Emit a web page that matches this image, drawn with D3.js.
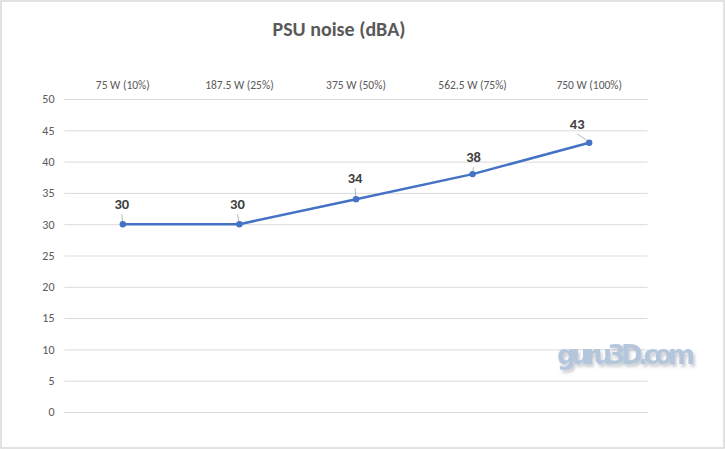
<!DOCTYPE html>
<html><head><meta charset="utf-8">
<script src="https://cdn.jsdelivr.net/npm/d3@7"></script>
<style>body{margin:0;background:#fff}svg{display:block}</style>
</head><body>
<script>
const categories = ["75 W (10%)", "187.5 W (25%)", "375 W (50%)", "562.5 W (75%)", "750 W (100%)"];
const noise = [30, 30, 34, 38, 43];
const yTicks = [0, 5, 10, 15, 20, 25, 30, 35, 40, 45, 50];
const labelOffsets = [[-1, -20], [-2, -20], [-1, -21], [1, -17], [-12, -19]];
const title = "PSU noise (dBA)";

const W = 725, H = 449;
const svg = d3.select("body").append("svg").attr("width", W).attr("height", H);
const defs = svg.append("defs");
const f = defs.append("filter").attr("id", "sh").attr("x", "-10%").attr("y", "-30%").attr("width", "130%").attr("height", "170%");
f.append("feDropShadow").attr("dx", 2).attr("dy", 3).attr("stdDeviation", 1.5)
  .attr("flood-color", "#9aa0a8").attr("flood-opacity", 0.5);

svg.append("rect").attr("x", 1).attr("y", 1).attr("width", W - 2).attr("height", H - 2)
  .attr("fill", "#fff").attr("stroke", "#d9d9d9").attr("stroke-width", 1.5);

const font = "Carlito, 'Open Sans', 'Liberation Sans', sans-serif";
const x = d3.scaleBand().domain(categories).range([64.5, 647.5]);
const y = d3.scaleLinear().domain([0, 50]).range([412, 99]);

svg.append("text").attr("x", 339).attr("y", 36).attr("text-anchor", "middle")
  .attr("font-family", font).attr("font-weight", "bold").attr("font-size", 20)
  .attr("fill", "#595959").text(title);

// gridlines
const yAxis = d3.axisLeft(y).tickValues(yTicks).tickSize(-(647.5 - 64.5)).tickPadding(10);
const gy = svg.append("g").attr("transform", "translate(64.5,0)").call(yAxis);
gy.select(".domain").remove();
gy.selectAll(".tick line").attr("stroke", "#d9d9d9").attr("stroke-width", 1);
gy.selectAll(".tick text").attr("font-family", font).attr("font-size", 12).attr("fill", "#595959");

// top category axis
const xAxis = d3.axisTop(x).tickSize(0).tickPadding(0);
const gx = svg.append("g").attr("transform", "translate(0,89)").call(xAxis);
gx.select(".domain").remove();
gx.selectAll(".tick text").attr("font-family", font).attr("font-size", 11.5).attr("fill", "#595959");

// watermark
svg.append("text").attr("x", 626).attr("y", 364).attr("text-anchor", "middle")
  .attr("font-family", "'DejaVu Sans', sans-serif").attr("font-weight", "bold").attr("font-size", 26)
  .attr("fill", "#b3c6dc").attr("filter", "url(#sh)")
  .attr("textLength", 138).text("guru3D.com");

// line
const cx = d => x(d) + x.bandwidth() / 2;
const line = d3.line().x((d, i) => cx(categories[i])).y(d => y(d));
svg.append("path").datum(noise).attr("d", line).attr("fill", "none")
  .attr("stroke", "#4472c4").attr("stroke-width", 2.5).attr("stroke-linejoin", "round");

// leader lines
noise.forEach((v, i) => {
  const px = cx(categories[i]), py = y(v);
  const [dx, dy] = labelOffsets[i];
  svg.append("line").attr("x1", px + dx).attr("y1", py + dy + 10).attr("x2", px).attr("y2", py - 1)
    .attr("stroke", "#a6a6a6").attr("stroke-width", 0.8);
});

svg.selectAll("circle").data(noise).join("circle")
  .attr("cx", (d, i) => cx(categories[i])).attr("cy", d => y(d)).attr("r", 3.2)
  .attr("fill", "#4472c4");

// data labels
svg.selectAll("text.lbl").data(noise).join("text").attr("class", "lbl")
  .attr("x", (d, i) => cx(categories[i]) + labelOffsets[i][0])
  .attr("y", d => y(d)).attr("dy", (d, i) => labelOffsets[i][1] + 5)
  .attr("text-anchor", "middle").attr("font-family", font).attr("font-weight", "bold")
  .attr("font-size", 14.5).attr("fill", "#404040").text(d => d);
</script>
</body></html>
